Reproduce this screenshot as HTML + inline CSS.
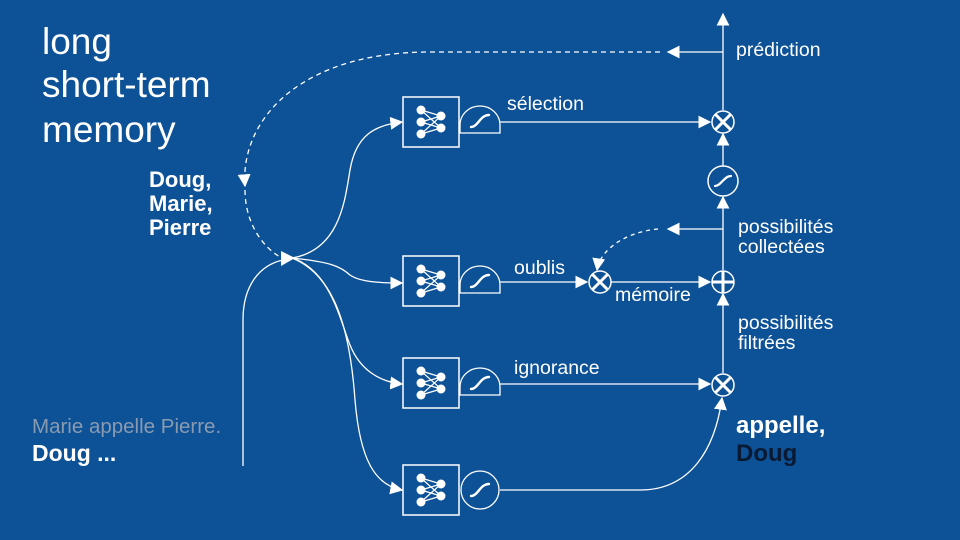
<!DOCTYPE html>
<html><head><meta charset="utf-8"><style>
html,body{margin:0;padding:0;background:#0d5196;}
svg{display:block;font-family:"Liberation Sans",sans-serif;}
</style></head><body>
<svg width="960" height="540" viewBox="0 0 960 540" xmlns="http://www.w3.org/2000/svg">
<defs>
<marker id="a" viewBox="0 0 10 10" refX="9" refY="5" markerWidth="13" markerHeight="13" markerUnits="userSpaceOnUse" orient="auto"><path d="M0,0 L10,5 L0,10 z" fill="#fff"/></marker>
<g id="nn" stroke="#fff" stroke-width="1.3" fill="none">
<rect x="0" y="0" width="56" height="50" stroke-width="1.5"/>
<g stroke-width="1.2"><path d="M18,13 L38,19 M18,13 L38,31 M18,25 L38,19 M18,25 L38,31 M18,37 L38,19 M18,37 L38,31"/></g>
<g fill="#fff" stroke="none"><circle cx="18" cy="13" r="4.5"/><circle cx="18" cy="25" r="4.5"/><circle cx="18" cy="37" r="4.5"/><circle cx="38" cy="19" r="4.5"/><circle cx="38" cy="31" r="4.5"/></g>
</g>
<g id="half"><path d="M0,13 L0,5 A20,19 0 0 1 40,5 L40,13 Z" fill="none" stroke="#fff" stroke-width="1.3"/><path d="M11,7 C18,7 20,-5 29,-5" fill="none" stroke="#fff" stroke-width="2.4" stroke-linecap="round"/></g>
<g id="x"><circle r="11" fill="none" stroke="#fff" stroke-width="1.5"/><path d="M-7.5,-7.5 L7.5,7.5 M-7.5,7.5 L7.5,-7.5" stroke="#fff" stroke-width="3"/></g>
</defs>
<g fill="#fff" font-size="37"><text x="42" y="54">long</text><text x="42" y="97">short-term</text><text x="42" y="142">memory</text></g>
<g fill="#fff" font-size="22" font-weight="bold"><text x="149" y="187">Doug,</text><text x="149" y="211">Marie,</text><text x="149" y="235">Pierre</text></g>
<text x="32" y="433" fill="#8a9bb0" font-size="20.5">Marie appelle Pierre.</text>
<text x="32" y="461" fill="#fff" font-size="23" font-weight="bold">Doug ...</text>
<text x="736" y="433" fill="#fff" font-size="24" font-weight="bold">appelle,</text>
<text x="736" y="461" fill="#0a1a33" font-size="24" font-weight="bold">Doug</text>
<g fill="#fff" font-size="19.5">
<text x="736" y="56">prédiction</text>
<text x="507" y="110">sélection</text>
<text x="738" y="233">possibilités</text><text x="738" y="253">collectées</text>
<text x="514" y="274">oublis</text>
<text x="615" y="301">mémoire</text>
<text x="738" y="329">possibilités</text><text x="738" y="349">filtrées</text>
<text x="514" y="374">ignorance</text>
</g>
<use href="#nn" x="403" y="97"/><use href="#nn" x="403" y="256"/><use href="#nn" x="403" y="358"/><use href="#nn" x="403" y="465"/>
<use href="#half" x="460" y="120"/><use href="#half" x="460" y="280"/><use href="#half" x="460" y="382"/>
<circle cx="480" cy="490" r="19" fill="none" stroke="#fff" stroke-width="1.3"/>
<path d="M471,496 C478,496 480,484 489,484" fill="none" stroke="#fff" stroke-width="2.4" stroke-linecap="round"/>
<g stroke="#fff" stroke-width="1.3" fill="none">
<path d="M500,122 L710,122" marker-end="url(#a)"/>
<path d="M500,282 L587,282" marker-end="url(#a)"/>
<path d="M611,282 L710,282" marker-end="url(#a)"/>
<path d="M500,384 L710,384" marker-end="url(#a)"/>
<path d="M500,490 L640,490 C690,490 715,450 722,398" marker-end="url(#a)"/>
<path d="M723,373 L723,294" marker-end="url(#a)"/>
<path d="M723,270 L723,197" marker-end="url(#a)"/>
<path d="M723,166 L723,134" marker-end="url(#a)"/>
<path d="M723,110 L723,14" marker-end="url(#a)"/>
<path d="M723,52 L668,52" marker-end="url(#a)"/>
<path d="M723,229 L668,229" marker-end="url(#a)"/>
<path d="M660,52 L430,52 C300,52 240,120 245,186" stroke-dasharray="5,4" marker-end="url(#a)"/>
<path d="M245,190 C245,220 260,245 280,257" stroke-dasharray="5,4"/>
<path d="M658,229 C625,232 600,250 597,270" stroke-dasharray="4,4" marker-end="url(#a)"/>
<path d="M243,466 L243,320 C243,285 260,265 283,260"/>
<path d="M292,258 C340,250 345,200 350,170 C356,135 375,125 402,122" marker-end="url(#a)"/>
<path d="M292,258 C330,262 340,266 350,275 C360,282 380,283 402,283" marker-end="url(#a)"/>
<path d="M292,258 C330,270 340,320 350,345 C360,370 380,382 402,384" marker-end="url(#a)"/>
<path d="M292,258 C335,275 350,330 355,400 C360,460 375,485 402,490" marker-end="url(#a)"/>
</g>
<path d="M281,251 L295,258 L281,266 Z" fill="#fff"/>
<use href="#x" x="723" y="122"/><use href="#x" x="600" y="282"/><use href="#x" x="723" y="385"/>
<circle cx="723" cy="181" r="15" fill="none" stroke="#fff" stroke-width="1.5"/>
<path d="M715,186 C721,186 724,176 731,176" fill="none" stroke="#fff" stroke-width="2.2" stroke-linecap="round"/>
<circle cx="723" cy="282" r="11" fill="none" stroke="#fff" stroke-width="1.5"/>
<path d="M712,282 L734,282 M723,271 L723,293" stroke="#fff" stroke-width="3"/>
</svg>
</body></html>
